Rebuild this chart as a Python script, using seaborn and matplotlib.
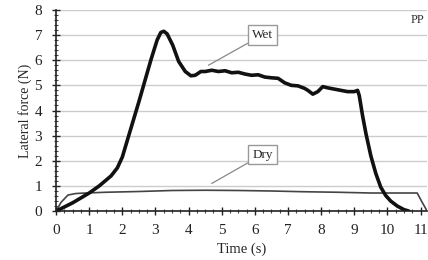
import matplotlib
matplotlib.use("Agg")
import matplotlib.pyplot as plt
import pandas as pd
import seaborn as sns
from matplotlib.ticker import MultipleLocator

# Datos
wet_x = [0, 0.5, 1.0, 1.3, 1.66, 1.85, 2.0, 2.17, 2.5, 2.86, 3.05, 3.16, 3.25, 3.35,
         3.52, 3.7, 3.9, 4.07, 4.2, 4.37, 4.5, 4.7, 4.9, 5.1, 5.3, 5.5,
         5.7, 5.9, 6.1, 6.3, 6.5, 6.7, 6.9, 7.1, 7.3, 7.5, 7.6, 7.75, 7.9, 8.05,
         8.2, 8.4, 8.6, 8.8, 9.0, 9.1, 9.15, 9.25, 9.35, 9.5, 9.65, 9.8, 9.95,
         10.1, 10.3, 10.5, 10.65]
wet_y = [0, 0.33, 0.72, 1.0, 1.4, 1.72, 2.15, 2.9, 4.35, 6.0, 6.8, 7.1, 7.15, 7.05,
         6.6, 5.95, 5.55, 5.38, 5.4, 5.55, 5.55, 5.6, 5.55, 5.58, 5.5, 5.52,
         5.45, 5.4, 5.42, 5.33, 5.3, 5.28, 5.1, 5.0, 4.98, 4.88, 4.8, 4.65, 4.75,
         4.95, 4.9, 4.85, 4.8, 4.75, 4.75, 4.8, 4.6, 3.8, 3.1, 2.2, 1.5, 0.95,
         0.62, 0.4, 0.2, 0.06, 0]

dry_x = [0, 0.15, 0.36, 0.6, 0.9, 1.5, 2.5, 3.5, 4.5, 5.5, 6.5, 7.5, 8.5, 9.5,
         10.5, 10.9, 11.05, 11.2]
dry_y = [0, 0.35, 0.64, 0.7, 0.72, 0.75, 0.78, 0.82, 0.83, 0.82, 0.8, 0.77, 0.75,
         0.72, 0.72, 0.72, 0.35, 0]

x_ticks = list(range(0, 12))
y_ticks = list(range(0, 9))

df_wet = pd.DataFrame({"t": wet_x, "f": wet_y})
df_dry = pd.DataFrame({"t": dry_x, "f": dry_y})

sns.set_style("white")
plt.rcParams["font.family"] = ["Liberation Serif", "DejaVu Serif"]

fig = plt.figure(figsize=(4.28, 2.6), dpi=100)
ax = fig.add_axes([0.131, 0.188, 0.867, 0.774])

sns.lineplot(data=df_dry, x="t", y="f", color="#444444", linewidth=1.2, ax=ax)
sns.lineplot(data=df_wet, x="t", y="f", color="#111111", linewidth=2.6, ax=ax)

ax.set_xlim(0, 11.2)
ax.set_ylim(0, 8)
ax.set_xticks(x_ticks)
ax.set_yticks(y_ticks)
ax.xaxis.set_minor_locator(MultipleLocator(0.25))
ax.yaxis.set_minor_locator(MultipleLocator(0.2))
ax.grid(axis="y", color="#cccccc", linewidth=1.0)
ax.set_axisbelow(True)

for s in ["top", "right"]:
    ax.spines[s].set_visible(False)
ax.spines["left"].set_color("#222222")
ax.spines["bottom"].set_color("#222222")
ax.spines["left"].set_linewidth(1.2)
ax.spines["bottom"].set_linewidth(1.2)
ax.tick_params(which="major", direction="inout", length=6, width=1.0, labelsize=11,
               colors="#222222", left=True, bottom=True)
ax.tick_params(axis="x", which="major", pad=6)
ax.tick_params(axis="y", which="major", pad=7)
ax.tick_params(which="minor", direction="inout", length=3, width=0.8,
               colors="#444444", left=True, bottom=True)

ax.set_xlabel("Time (s)", fontsize=10.5, labelpad=4)
ax.set_ylabel("Lateral force (N)", fontsize=10, labelpad=2)

box = dict(boxstyle="square,pad=0.3", fc="white", ec="#999999", lw=1.0)
line = dict(arrowstyle="-", color="#888888", lw=0.9, shrinkA=0, shrinkB=0)
ax.annotate("Wet", xy=(4.6, 5.8), xytext=(6.23, 7.0), fontsize=9.5, ha="center",
            va="center", bbox=box, arrowprops=line)
ax.annotate("Dry", xy=(4.7, 1.1), xytext=(6.23, 2.25), fontsize=9.5, ha="center",
            va="center", bbox=box, arrowprops=line)
ax.text(10.9, 7.6, "PP", fontsize=9, ha="center", va="center", color="#333333")

fig.savefig("out.png", dpi=100)
